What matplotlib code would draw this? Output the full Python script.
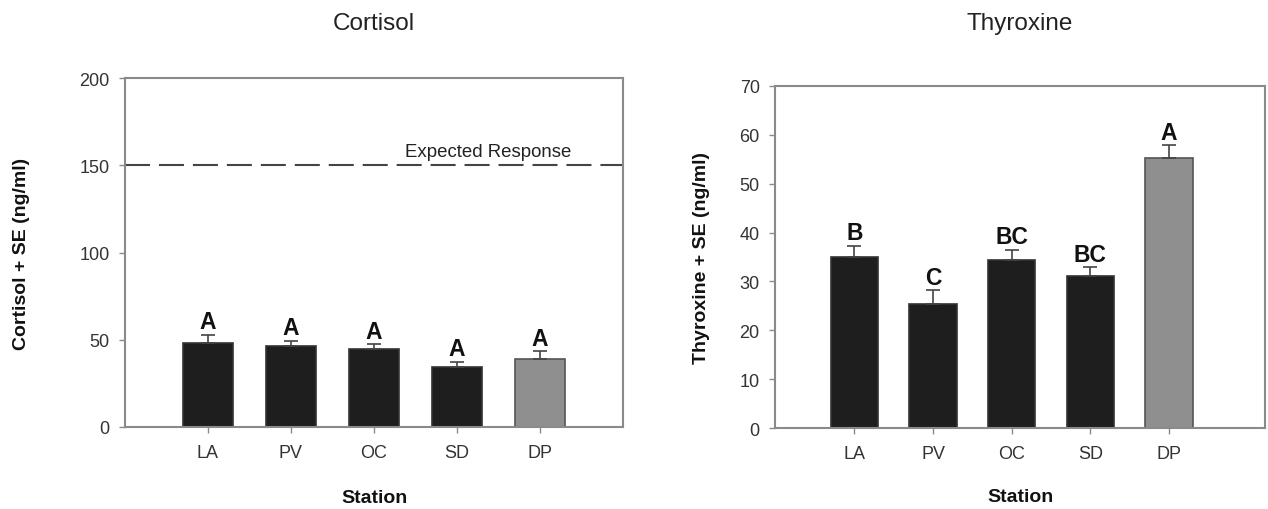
import numpy as np
import matplotlib
matplotlib.use("Agg")
import matplotlib.pyplot as plt

plt.rcParams['font.family'] = ['Liberation Sans', 'DejaVu Sans']

# station data
stations = ['LA', 'PV', 'OC', 'SD', 'DP']
cortisol_mean = [48.1, 46.2, 44.7, 34.6, 39.0]
cortisol_se = [4.9, 3.3, 2.9, 2.8, 4.5]
cortisol_letters = ['A', 'A', 'A', 'A', 'A']
thyroxine_mean = [35.1, 25.3, 34.3, 31.1, 55.2]
thyroxine_se = [2.2, 3.0, 2.2, 1.9, 2.6]
thyroxine_letters = ['B', 'C', 'BC', 'BC', 'A']
expected_cortisol = 150

bar_colors = ['#1e1e1e', '#1e1e1e', '#1e1e1e', '#1e1e1e', '#8f8f8f']
edge_colors = ['#333333', '#333333', '#333333', '#333333', '#555555']
spine_color = '#8a8a8a'
text_color = '#333333'

fig = plt.figure(figsize=(12.68, 5.1), dpi=100)
ax1 = fig.add_axes([125 / 1268, 82 / 510, 498 / 1268, 349 / 510])
ax2 = fig.add_axes([775 / 1268, 80.7 / 510, 490 / 1268, 342.6 / 510])


def draw_panel(ax, means, se, letters, ylabel, title, ymax, ystep, xlim, title_pad):
    x = np.arange(len(stations))
    ax.bar(x, means, width=0.6, color=bar_colors, edgecolor=edge_colors,
           linewidth=1.2, zorder=2)
    ax.errorbar(x, means, yerr=[np.zeros(len(se)), se], fmt='none',
                ecolor='#444444', elinewidth=1.2, capsize=5, capthick=1.2, zorder=3)
    tops = np.array(means) + np.array(se)
    for xi, top, lab in zip(x, tops, letters):
        ax.annotate(lab, (xi, top), xytext=(0, 4.5), textcoords='offset points',
                    ha='center', va='baseline', fontsize=16.5, fontweight='bold',
                    color='#111111')

    ax.set_xlim(*xlim)
    ax.set_ylim(0, ymax)
    ax.set_yticks(np.arange(0, ymax + 1, ystep))
    ax.set_xticks(x)
    ax.set_xticklabels(stations)

    for s in ax.spines.values():
        s.set_color(spine_color)
        s.set_linewidth(1.5)
    ax.tick_params(axis='both', direction='out', length=4, width=1,
                   color=spine_color, labelsize=13, labelcolor=text_color)
    ax.tick_params(axis='y', pad=7)
    ax.tick_params(axis='x', pad=8)

    ax.set_ylabel(ylabel, fontsize=14, fontweight='bold', color='#111111')
    ax.set_xlabel('Station', fontsize=14, fontweight='bold', color='#111111')
    ax.xaxis.label.set_va('center')
    ax.yaxis.label.set_va('center')
    ax.set_title(title, fontsize=17.5, color='#222222', pad=title_pad)


draw_panel(ax1, cortisol_mean, cortisol_se, cortisol_letters,
           'Cortisol + SE (ng/ml)', 'Cortisol', 200, 50, (-1, 5), 35)
ax1.yaxis.set_label_coords(-0.207, 0.5)
ax1.xaxis.set_label_coords(0.5, -0.203)
ax1.axhline(expected_cortisol, color='#444444', linewidth=1.5,
            dashes=(12, 4.3), zorder=1)
ax1.text(2.373, 155.3, 'Expected Response', fontsize=13.4, color='#222222',
         ha='left', va='baseline')

draw_panel(ax2, thyroxine_mean, thyroxine_se, thyroxine_letters,
           'Thyroxine + SE (ng/ml)', 'Thyroxine', 70, 10, (-1.01, 5.22), 41)
ax2.yaxis.set_label_coords(-0.149, 0.5)
ax2.xaxis.set_label_coords(0.5, -0.198)

fig.savefig('out.png', dpi=100)
